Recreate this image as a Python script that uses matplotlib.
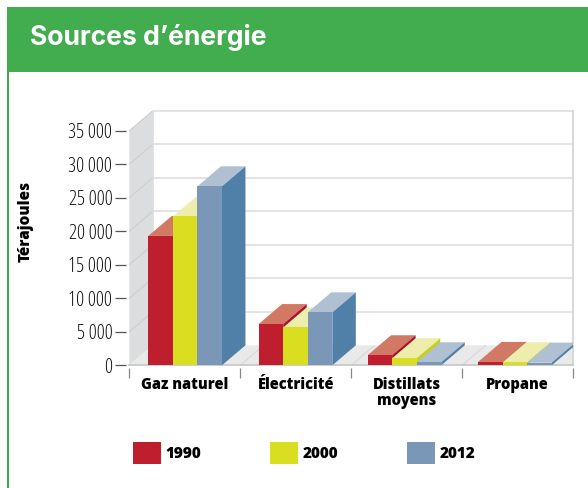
"""Sources d'energie: 3D-look grouped bars drawn with plain matplotlib."""

import matplotlib

matplotlib.use("Agg")
import matplotlib.pyplot as plt
from matplotlib.patches import Patch, Rectangle

categories = ["Gaz naturel", "Électricité", "Distillats\nmoyens", "Propane"]
years = ["1990", "2000", "2012"]
values_1990 = [19300, 6150, 1500, 500]
values_2000 = [22200, 5650, 1050, 450]
values_2012 = [26700, 7900, 450, 400]
yticks = [0, 5000, 10000, 15000, 20000, 25000, 30000, 35000]
ytick_labels = ["0", "5 000", "10 000", "15 000", "20 000", "25 000", "30 000", "35 000"]

FRONT = ["#bf1e2e", "#d9df20", "#7a97b7"]
TOP = ["#d17965", "#eeeeac", "#b0c0d3"]
SIDE = ["#a8122a", "#c9cf1c", "#5080a8"]
GREEN = "#41ad4f"
NARROW = {"family": "Open Sans", "stretch": "condensed"}

W, H = 588, 488
# depth of the fake 3D, in data units (24 px across, 20 px up)
DX = 23.5 / 111
DY = 20 * 35000 / 234.6
BAR_W = 0.2215
# groups are not quite evenly placed in the original
GROUP_LEFT = [0.171, 1.166, 2.148, 3.144]


def px_rect(x0, y0, x1, y1, color):
    """Add a rectangle to the figure, given in picture pixels."""
    fig.add_artist(
        Rectangle(
            (x0 / W, 1 - y1 / H),
            (x1 - x0) / W,
            (y1 - y0) / H,
            transform=fig.transFigure,
            fc=color,
            lw=0,
        )
    )


fig = plt.figure(figsize=(W / 100, H / 100), dpi=100, facecolor="white")
px_rect(6.5, 6.5, W, 72, GREEN)
px_rect(6.5, 6.5, 9, H, GREEN)
fig.text(
    29.5 / W,
    1 - 37.5 / H,
    "Sources d’énergie",
    color="white",
    family="Inter",
    weight="bold",
    fontsize=19.1,
    va="center",
)

ax = fig.add_axes((129.3 / W, 1 - 365.3 / H, (573 - 129.3) / W, (365.3 - 110.7) / H))
ax.set_xlim(0, 4)
ax.set_ylim(0, 35000 + DY)
ax.set_facecolor("white")

# walls and floor
ax.fill([0, DX, DX, 0], [0, DY, 35000 + DY, 35000], color="#dcddde", lw=0, zorder=1)
ax.fill([0, DX, 4, 4], [0, DY, DY, 0], color="#e9e9e9", lw=0, zorder=1)
for t in yticks[1:]:
    ax.plot([DX, 4], [t + DY, t + DY], color="#dcdcdc", lw=1.1, zorder=2, clip_on=False)
    ax.plot([0, DX], [t, t + DY], color="#cccccc", lw=0.7, zorder=2)
for i in range(1, 4):
    ax.plot([i, i + DX], [0, DY], color="#d6d6d6", lw=0.7, zorder=2)
ax.plot([DX, DX], [DY, 35000 + DY], color="#dcdcdc", lw=1.1, zorder=2)
ax.plot([4, 4], [0, 35000 + DY], color="#d2d2d2", lw=1.2, zorder=2, clip_on=False)
ax.plot([0, 4], [0, 0], color="#c8c8c8", lw=1.3, zorder=2, clip_on=False)

# bars, painted left to right so that the depth faces overlap correctly
series = [values_1990, values_2000, values_2012]
for i in range(len(categories)):
    for j, vals in enumerate(series):
        left = GROUP_LEFT[i] + j * BAR_W
        right = left + BAR_W
        v = vals[i]
        z = 10 + 9 * i + 3 * j
        ax.bar(left, v, BAR_W, align="edge", color=FRONT[j], lw=0, zorder=z + 2)
        ax.fill(
            [left, right, right + DX, left + DX],
            [v, v, v + DY, v + DY],
            color=TOP[j],
            lw=0,
            zorder=z,
        )
        ax.fill(
            [right, right + DX, right + DX, right],
            [0, DY, v + DY, v],
            color=SIDE[j],
            lw=0,
            zorder=z + 1,
        )

for name, spine in ax.spines.items():
    spine.set_visible(False)
ax.spines["left"].set_position(("outward", 2.2))
ax.spines["bottom"].set_position(("outward", 2.2))

ax.set_yticks(yticks, ytick_labels, fontsize=14.5, color="#111111", **NARROW)
ax.tick_params(axis="y", length=8, width=0.9, color="#555555", pad=2)
ax.set_xticks([0, 1, 2, 3, 4], [""] * 5)
ax.tick_params(axis="x", which="major", length=7.2, width=0.9, color="#888888")
ax.set_xticks([0.5, 1.5, 2.5, 3.5], categories, minor=True, weight=800, **NARROW)
ax.tick_params(axis="x", which="minor", length=0, pad=6, labelsize=10.5, labelcolor="black")
for lab in ax.get_xticklabels(minor=True):
    lab.set_linespacing(1.0)

fig.text(
    26 / W,
    1 - 221 / H,
    "Térajoules",
    rotation=90,
    weight=800,
    fontsize=11,
    ha="center",
    va="center",
    **NARROW,
)

handles = [Patch(fc=c, lw=0, label=y) for c, y in zip(FRONT, years)]
fs = 11
fig.legend(
    handles=handles,
    ncols=3,
    loc="center left",
    bbox_to_anchor=(133 / W, 1 - 453 / H),
    frameon=False,
    prop={"family": "Open Sans", "stretch": "condensed", "weight": 800, "size": fs},
    handlelength=20.2 / fs,
    handleheight=20.2 / fs,
    handletextpad=0.3,
    columnspacing=(136.5 - 28 - 6 - 34) * 0.72 / fs,
    borderpad=0,
    borderaxespad=0,
)

fig.savefig("out.png", dpi=100)
